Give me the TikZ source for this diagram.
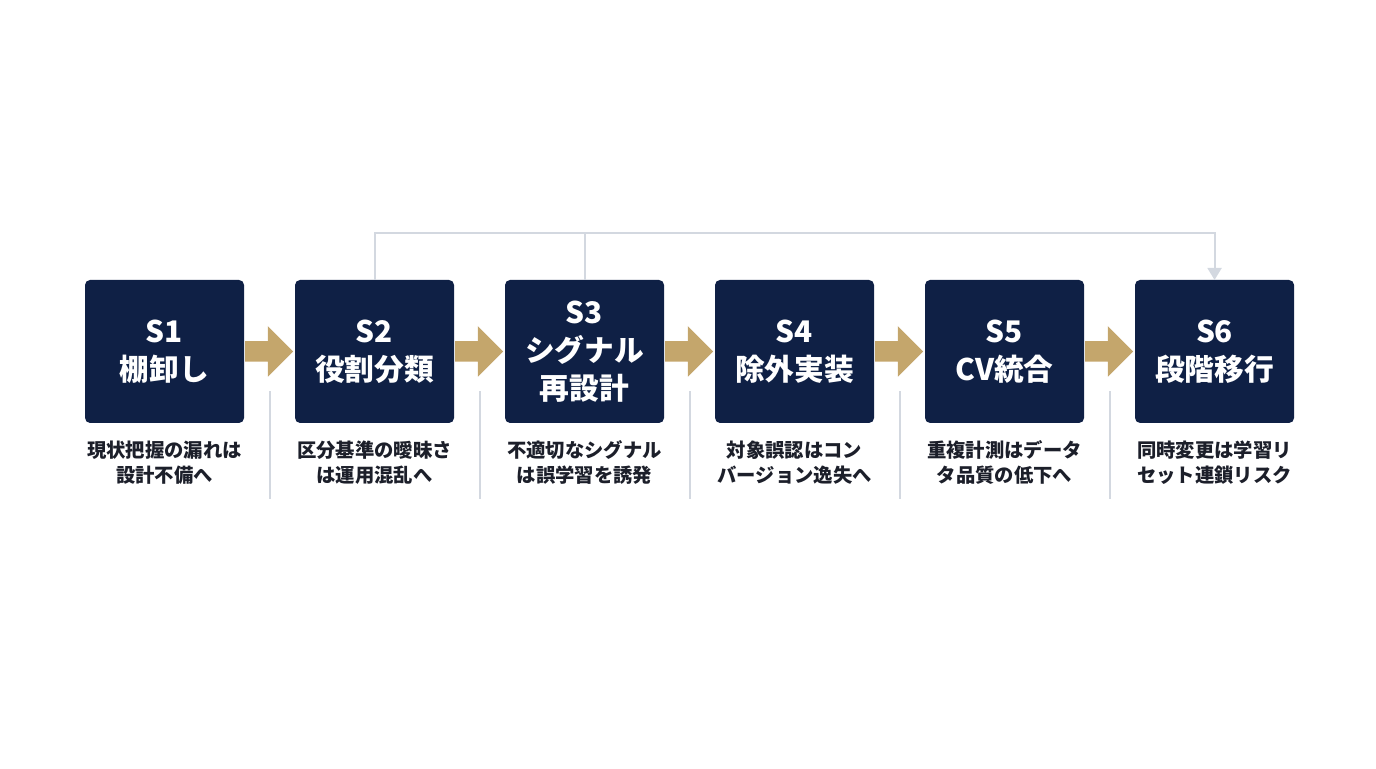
\documentclass[tikz,border=0pt]{standalone}
\usepackage{fontspec}
\setmainfont{Noto Sans CJK JP}
\usepackage{tikz}
\usetikzlibrary{shapes.arrows, arrows.meta, positioning, calc}
\definecolor{navy}{HTML}{0F2045}
\definecolor{gold}{HTML}{C4A66C}
\definecolor{linegray}{HTML}{D3D8E0}
\definecolor{ink}{HTML}{1C1F2A}
\tikzstyle{stage} = [rectangle, rounded corners=3.75pt, minimum width=119.25pt, minimum height=107.25pt, inner sep=0pt, outer sep=0pt, fill=navy, text=white, align=center, font=\fontsize{22.3pt}{28.5pt}\selectfont\bfseries]
\tikzstyle{note} = [inner sep=0pt, text=ink, align=center, font=\fontsize{14.5pt}{18.75pt}\selectfont\bfseries]
\tikzstyle{flow} = [single arrow, fill=gold, draw=none, inner sep=0pt, outer sep=0pt, minimum width=37.5pt, minimum height=36pt, single arrow head extend=11.25pt, single arrow tip angle=90]
\tikzstyle{sep} = [draw=linegray, line width=1.5pt]
\tikzstyle{loopline} = [draw=linegray, line width=1.5pt]
\tikzstyle{looparrow} = [loopline, -{Triangle[width=10.5pt,length=9pt]}]

\begin{document}
\begin{tikzpicture}[node distance = 38.25pt]
		\useasboundingbox (0,0) rectangle (1032pt,-576pt);
		\node (s1) [stage] at (123.4pt,-263.6pt) {S1\\棚卸し};
		\node (s2) [stage, right=of s1] {S2\\役割分類};
		\node (s3) [stage, right=of s2] {S3\\シグナル\\再設計};
		\node (s4) [stage, right=of s3] {S4\\除外実装};
		\node (s5) [stage, right=of s4] {S5\\CV統合};
		\node (s6) [stage, right=of s5] {S6\\段階移行};
		\node (n1) [note, below=13pt of s1] {現状把握の漏れは\\設計不備へ};
		\node (n2) [note, below=13pt of s2] {区分基準の曖昧さ\\は運用混乱へ};
		\node (n3) [note, below=13pt of s3] {不適切なシグナル\\は誤学習を誘発};
		\node (n4) [note, below=13pt of s4] {対象誤認はコン\\バージョン逸失へ};
		\node (n5) [note, below=13pt of s5] {重複計測はデータ\\タ品質の低下へ};
		\node (n6) [note, below=13pt of s6] {同時変更は学習リ\\セット連鎖リスク};
		\node (a1) [flow, right=0.75pt of s1] {\rule{0pt}{15pt}};
		\node (a2) [flow, right=0.75pt of s2] {\rule{0pt}{15pt}};
		\node (a3) [flow, right=0.75pt of s3] {\rule{0pt}{15pt}};
		\node (a4) [flow, right=0.75pt of s4] {\rule{0pt}{15pt}};
		\node (a5) [flow, right=0.75pt of s5] {\rule{0pt}{15pt}};
		\foreach \a/\b in {s1/s2,s2/s3,s3/s4,s4/s5,s5/s6}
			\draw [sep] ($(\a.east)!0.5!(\b.west)+(0,-30pt)$) -- ++(0,-81pt);
		\coordinate (top) at ($(s2.north)+(0,35.25pt)$);
		\draw [looparrow] (s2.north) -- (top) -| (s6.north);
		\draw [loopline] (s3.north) -- (s3.north |- top);
	\end{tikzpicture}
\end{document}
